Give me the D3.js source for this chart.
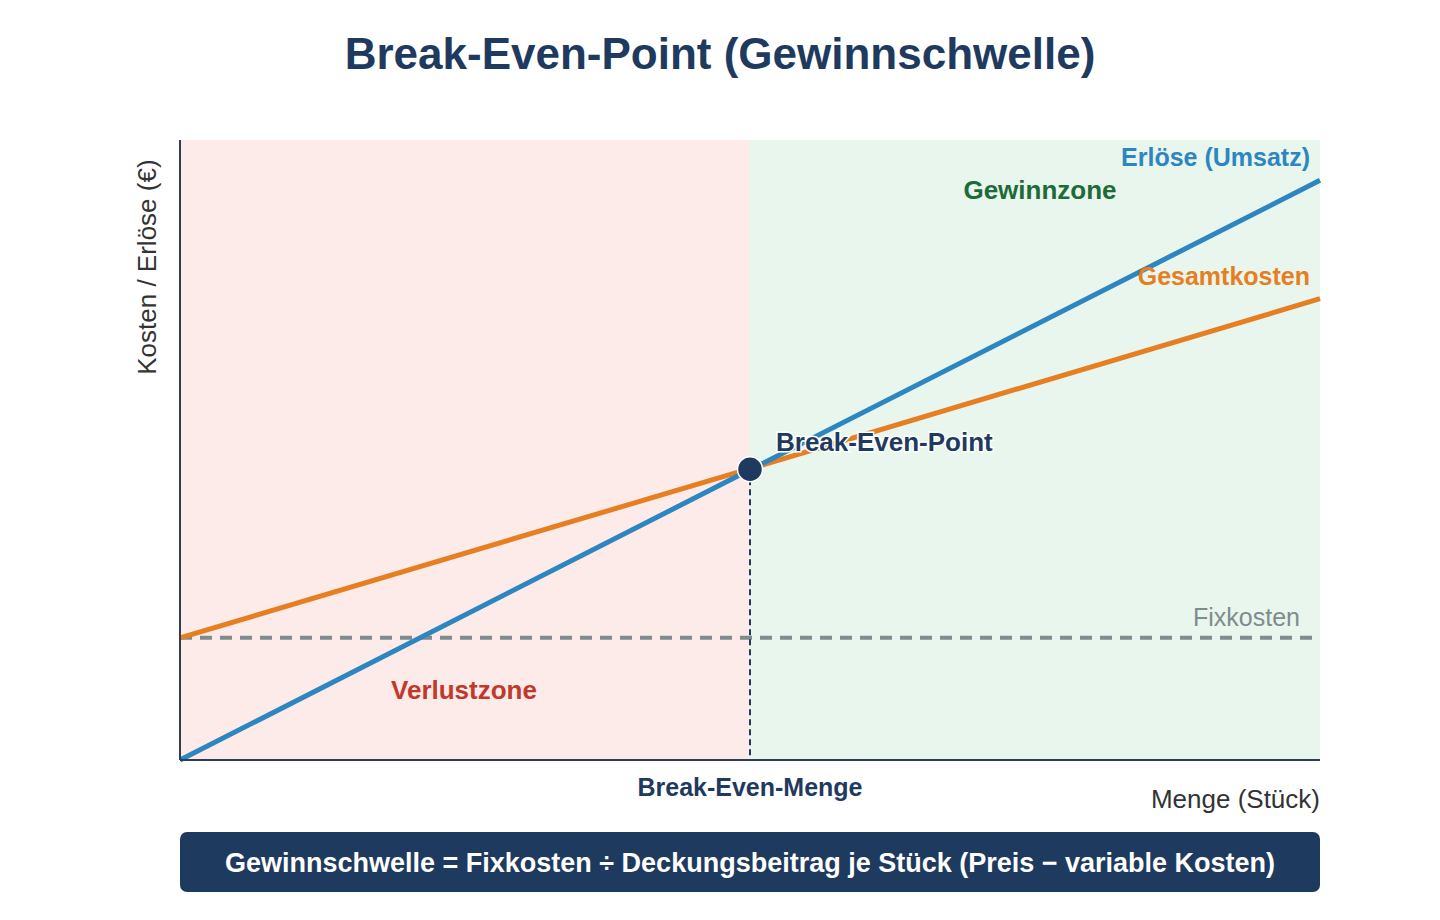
<!DOCTYPE html>
<html lang="de">
<head>
<meta charset="utf-8">
<title>Break-Even-Point</title>
<script src="https://cdn.jsdelivr.net/npm/d3@7"></script>
<style>
  html, body { margin: 0; padding: 0; background: #fff; }
  svg { display: block; font-family: "Liberation Sans", Arial, sans-serif; }
</style>
</head>
<body>
<svg id="chart" width="1440" height="920"></svg>
<script>
// Break-Even-Analyse – Kosten und Erlöse über der Menge

const width = 1440, height = 920;
const margin = { top: 140, right: 120, bottom: 160, left: 180 };
const innerWidth  = width  - margin.left - margin.right;
const innerHeight = height - margin.top  - margin.bottom;

// Daten (relative Einheiten)
const menge        = [0, 50, 100];
const erloese      = [0, 46.8, 93.5];
const gesamtkosten = [19.7, 47.0, 74.4];
const fixkosten    = 19.7;
const breakEven    = { menge: 50, wert: 46.9 };
const zonen = [
  { name: "Verlustzone", von: 0,  bis: 50,  fill: "#fdebea", color: "#c0392b" },
  { name: "Gewinnzone",  von: 50, bis: 100, fill: "#e8f6ee", color: "#1e6b3a" }
];

const navy = "#1f3a5f";

const svg = d3.select("#chart")
  .attr("viewBox", `0 0 ${width} ${height}`);

svg.append("text")
  .attr("x", width / 2)
  .attr("y", 69)
  .attr("text-anchor", "middle")
  .attr("font-size", 44)
  .attr("font-weight", "bold")
  .attr("fill", navy)
  .text("Break-Even-Point (Gewinnschwelle)");

const g = svg.append("g")
  .attr("transform", `translate(${margin.left},${margin.top})`);

const x = d3.scaleLinear().domain([0, 100]).range([0, innerWidth]);
const y = d3.scaleLinear().domain([0, 100]).range([innerHeight, 0]);

// Zonen-Hintergrund
g.selectAll("rect.zone")
  .data(zonen)
  .join("rect")
  .attr("class", "zone")
  .attr("x", d => x(d.von))
  .attr("y", 0)
  .attr("width", d => x(d.bis) - x(d.von))
  .attr("height", innerHeight)
  .attr("fill", d => d.fill);

// Fixkosten (gestrichelt)
g.append("line")
  .attr("x1", x(0)).attr("x2", x(100))
  .attr("y1", y(fixkosten)).attr("y2", y(fixkosten))
  .attr("stroke", "#7f8c8d")
  .attr("stroke-width", 4)
  .attr("stroke-dasharray", "12,8");

// Linien
const line = d3.line()
  .x(d => x(d[0]))
  .y(d => y(d[1]));

g.append("path")
  .datum(d3.zip(menge, gesamtkosten))
  .attr("d", line)
  .attr("fill", "none")
  .attr("stroke", "#e67e22")
  .attr("stroke-width", 5);

g.append("path")
  .datum(d3.zip(menge, erloese))
  .attr("d", line)
  .attr("fill", "none")
  .attr("stroke", "#2e86c1")
  .attr("stroke-width", 5);

// Lot vom Break-Even-Point
g.append("line")
  .attr("x1", x(breakEven.menge)).attr("x2", x(breakEven.menge))
  .attr("y1", y(breakEven.wert)).attr("y2", innerHeight)
  .attr("stroke", navy)
  .attr("stroke-width", 2)
  .attr("stroke-dasharray", "6,4");

g.append("circle")
  .attr("cx", x(breakEven.menge))
  .attr("cy", y(breakEven.wert))
  .attr("r", 12.5)
  .attr("fill", navy)
  .attr("stroke", "#fff")
  .attr("stroke-width", 1.5);

// Achsen (nur Linien)
g.append("line")
  .attr("x1", 0).attr("x2", 0)
  .attr("y1", 0).attr("y2", innerHeight)
  .attr("stroke", "#2c3e50").attr("stroke-width", 2);
g.append("line")
  .attr("x1", 0).attr("x2", innerWidth)
  .attr("y1", innerHeight).attr("y2", innerHeight)
  .attr("stroke", "#2c3e50").attr("stroke-width", 2);

// Beschriftungen
const label = (txt, px, py, opts = {}) => g.append("text")
  .attr("x", px).attr("y", py)
  .attr("text-anchor", opts.anchor || "start")
  .attr("font-size", opts.size || 25)
  .attr("font-weight", opts.weight || "bold")
  .attr("fill", opts.color || navy)
  .text(txt);

label("Erlöse (Umsatz)", innerWidth - 10, y(erloese[2]) - 14, { anchor: "end", color: "#2e86c1" });
label("Gesamtkosten", innerWidth - 10, y(gesamtkosten[2]) - 14, { anchor: "end", color: "#e67e22" });
label("Fixkosten", innerWidth - 20, y(fixkosten) - 12, { anchor: "end", color: "#7f8c8d", weight: "normal" });

label("Verlustzone", x(25) - 1, y(fixkosten) + 61, { anchor: "middle", color: zonen[0].color, size: 26 });
label("Gewinnzone",  x(75) + 5, 59, { anchor: "middle", color: zonen[1].color, size: 26 });

label("Break-Even-Point", x(breakEven.menge) + 26, y(breakEven.wert) - 18, { size: 26 })
  .attr("stroke", "#fff").attr("stroke-width", 3)
  .attr("paint-order", "stroke");

label("Break-Even-Menge", x(breakEven.menge), innerHeight + 36, { anchor: "middle" });
label("Menge (Stück)", innerWidth, innerHeight + 48, { anchor: "end", weight: "normal", color: "#333", size: 26 });

g.append("text")
  .attr("transform", `translate(${-24},${y(79.5)}) rotate(-90)`)
  .attr("text-anchor", "middle")
  .attr("font-size", 26)
  .attr("fill", "#333")
  .text("Kosten / Erlöse (€)");

// Formel-Box
svg.append("rect")
  .attr("x", margin.left).attr("y", 832)
  .attr("width", innerWidth).attr("height", 60)
  .attr("rx", 7)
  .attr("fill", navy);

svg.append("text")
  .attr("x", margin.left + innerWidth / 2)
  .attr("y", 872)
  .attr("text-anchor", "middle")
  .attr("font-size", 27)
  .attr("font-weight", "bold")
  .attr("fill", "#fff")
  .text("Gewinnschwelle = Fixkosten ÷ Deckungsbeitrag je Stück (Preis − variable Kosten)");
</script>
</body>
</html>
